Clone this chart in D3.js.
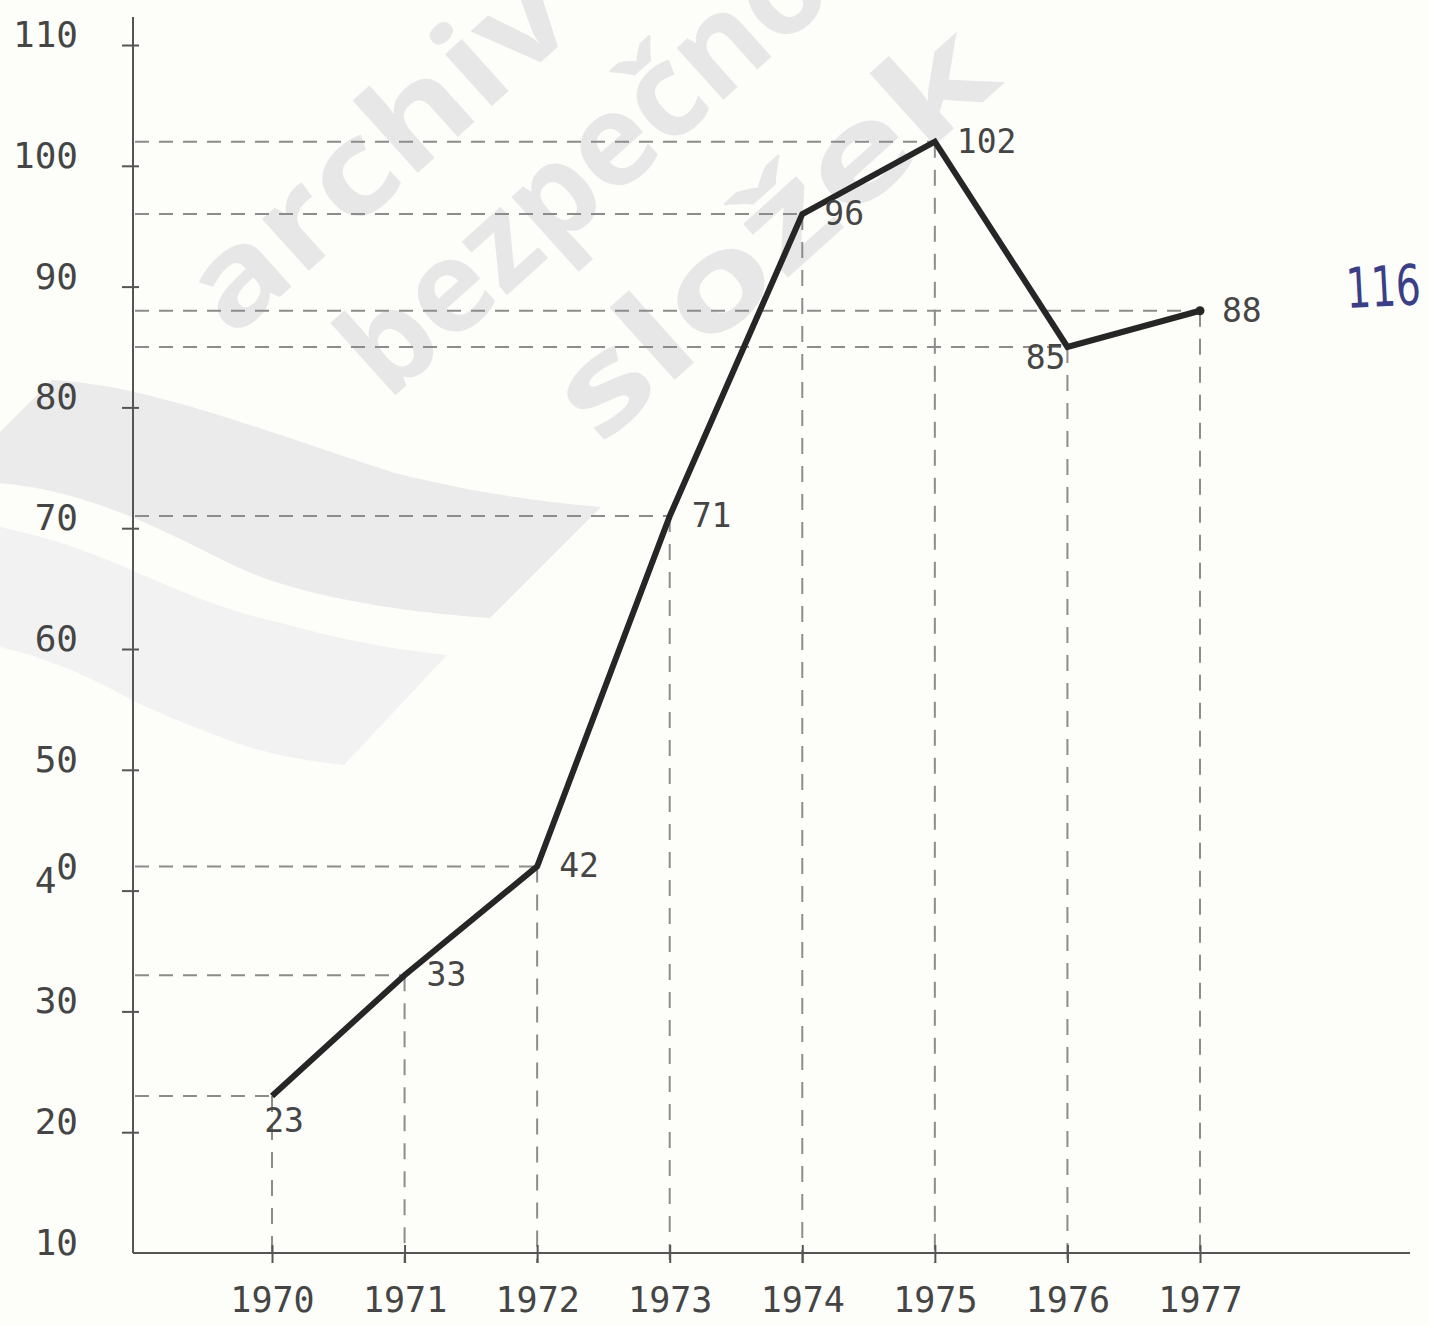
<!DOCTYPE html>
<html>
<head>
<meta charset="utf-8">
<script src="https://cdn.jsdelivr.net/npm/d3@7"></script>
<style>
  html, body { margin: 0; padding: 0; background: #fdfdfa; }
  svg { display: block; }
</style>
</head>
<body>
<svg id="chart" width="1429" height="1325"></svg>
<script>
// ---- data ----
const years = [1970, 1971, 1972, 1973, 1974, 1975, 1976, 1977];
const values = [23, 33, 42, 71, 96, 102, 85, 88];
const yTicks = [10, 20, 30, 40, 50, 60, 70, 80, 90, 100, 110];
const handNote = "116";
const watermarkLines = ["archiv", "bezpečnostních", "složek"];

const svg = d3.select("#chart");
const W = 1429, H = 1325;

svg.append("rect").attr("width", W).attr("height", H).attr("fill", "#fdfdfa");

// ---- watermark (background) ----
const wm = svg.append("g").attr("class", "watermark");
wm.append("path")
  .attr("d", "M0,432 L52,380 C150,385 260,430 395,473 C470,492 540,502 601,507 L490,618 C400,612 300,596 237,567 C180,540 100,492 0,483 Z")
  .attr("fill", "#ebebeb");
wm.append("path")
  .attr("d", "M0,527 C60,540 100,556 138,573 C200,600 240,614 277,622 C350,642 400,650 447,655 L344,765 C300,760 262,752 237,743 C180,722 150,710 119,693 C80,672 40,656 0,647 Z")
  .attr("fill", "#f2f2f2");
const wmPlace = [
  {x: 232, y: 340, len: 470},
  {x: 388, y: 402, len: null},
  {x: 600, y: 447, len: 545}
];
watermarkLines.forEach((t, i) => {
  const p = wmPlace[i];
  const el = wm.append("text")
    .attr("transform", `translate(${p.x},${p.y}) rotate(-42)`)
    .attr("font-family", "'Open Sans', 'DejaVu Sans', sans-serif")
    .attr("font-weight", 700)
    .attr("font-size", 128)
    .attr("fill", "#e7e7e7")
    .text(t);
  if (p.len) el.attr("textLength", p.len).attr("lengthAdjust", "spacingAndGlyphs");
});

// ---- scales ----
const x = d3.scaleLinear().domain([1970, 1977]).range([272, 1200]);
const y = d3.scaleLinear().domain([10, 110]).range([1253, 45]);
const axisX0 = 133, axisY0 = y(10);

const fontMono = "'DejaVu Sans Mono', 'Liberation Mono', monospace";
const textColor = "#454545";
const axisColor = "#555";
const dashColor = "#8c8c8c";

const data = years.map((yr, i) => ({ year: yr, value: values[i] }));

// ---- guide dashed lines ----
const guides = svg.append("g");
guides.selectAll("line.h").data(data).enter().append("line")
  .attr("class", "h")
  .attr("x1", axisX0 + 2).attr("x2", d => x(d.year))
  .attr("y1", d => y(d.value)).attr("y2", d => y(d.value))
  .attr("stroke", dashColor).attr("stroke-width", 2).attr("stroke-dasharray", "14 10");
guides.selectAll("line.v").data(data).enter().append("line")
  .attr("class", "v")
  .attr("x1", d => x(d.year)).attr("x2", d => x(d.year))
  .attr("y1", d => y(d.value)).attr("y2", axisY0 + 10)
  .attr("stroke", dashColor).attr("stroke-width", 2).attr("stroke-dasharray", "16 12");

// ---- axes ----
svg.append("line").attr("x1", axisX0).attr("x2", axisX0).attr("y1", 17).attr("y2", axisY0)
  .attr("stroke", axisColor).attr("stroke-width", 2);
svg.append("line").attr("x1", axisX0).attr("x2", 1410).attr("y1", axisY0).attr("y2", axisY0)
  .attr("stroke", axisColor).attr("stroke-width", 2);

const yAxis = svg.append("g").attr("transform", `translate(${axisX0},0)`)
  .call(d3.axisLeft(y).tickValues(yTicks).tickSize(11).tickPadding(44).tickFormat(d3.format("d")));
yAxis.select(".domain").remove();
yAxis.selectAll(".tick line").attr("x2", -11).attr("x1", 6).attr("stroke", axisColor).attr("stroke-width", 2);
yAxis.selectAll(".tick").filter(d => d === 10).select("line").remove();
yAxis.selectAll(".tick text")
  .attr("font-family", fontMono).attr("font-size", 36).attr("fill", textColor)
  .attr("y", -10);
yAxis.selectAll(".tick text").filter(d => d === 40).each(function(d) {
  const t = d3.select(this);
  const s = String(d);
  t.text(null);
  t.append("tspan").text(s[0]);
  t.append("tspan").attr("dy", -14).text(s.slice(1));
});

const xAxis = svg.append("g").attr("transform", `translate(0,${axisY0})`)
  .call(d3.axisBottom(x).tickValues(years).tickSize(10).tickPadding(24).tickFormat(d3.format("d")));
xAxis.select(".domain").remove();
xAxis.selectAll(".tick line").attr("y1", -8).attr("y2", 10).attr("stroke", axisColor).attr("stroke-width", 2);
xAxis.selectAll(".tick text")
  .attr("font-family", fontMono).attr("font-size", 35).attr("fill", textColor);

// ---- main line ----
svg.append("path").datum(data)
  .attr("d", d3.line().x(d => x(d.year)).y(d => y(d.value)))
  .attr("fill", "none").attr("stroke", "#262626").attr("stroke-width", 6)
  .attr("stroke-linejoin", "miter");
svg.append("circle").attr("cx", x(years[years.length - 1])).attr("cy", y(values[values.length - 1]))
  .attr("r", 4.5).attr("fill", "#262626");

// ---- value labels ----
const labelSide = { 1970: "below", 1976: "left" };
svg.append("g").selectAll("text").data(data).enter().append("text")
  .attr("font-family", fontMono).attr("font-size", 33).attr("fill", textColor)
  .attr("text-anchor", d => labelSide[d.year] === "below" ? "middle" : (labelSide[d.year] === "left" ? "end" : "start"))
  .attr("x", d => {
    const s = labelSide[d.year];
    if (s === "below") return x(d.year) + 12;
    if (s === "left") return x(d.year) - 2;
    return x(d.year) + 22;
  })
  .attr("y", d => {
    const s = labelSide[d.year];
    if (s === "below") return y(d.value) + 36;
    if (s === "left") return y(d.value) + 22;
    return y(d.value) + 11;
  })
  .text(d => d.value);

// ---- handwritten note ----
svg.append("g")
  .attr("transform", "translate(1347,308) rotate(-3) scale(0.7,1)")
  .append("text")
  .attr("x", 0).attr("y", 0)
  .attr("font-family", "'DejaVu Sans', sans-serif")
  .attr("font-size", 56)
  .attr("fill", "#3a3f86")
  .text(handNote);
</script>
</body>
</html>
